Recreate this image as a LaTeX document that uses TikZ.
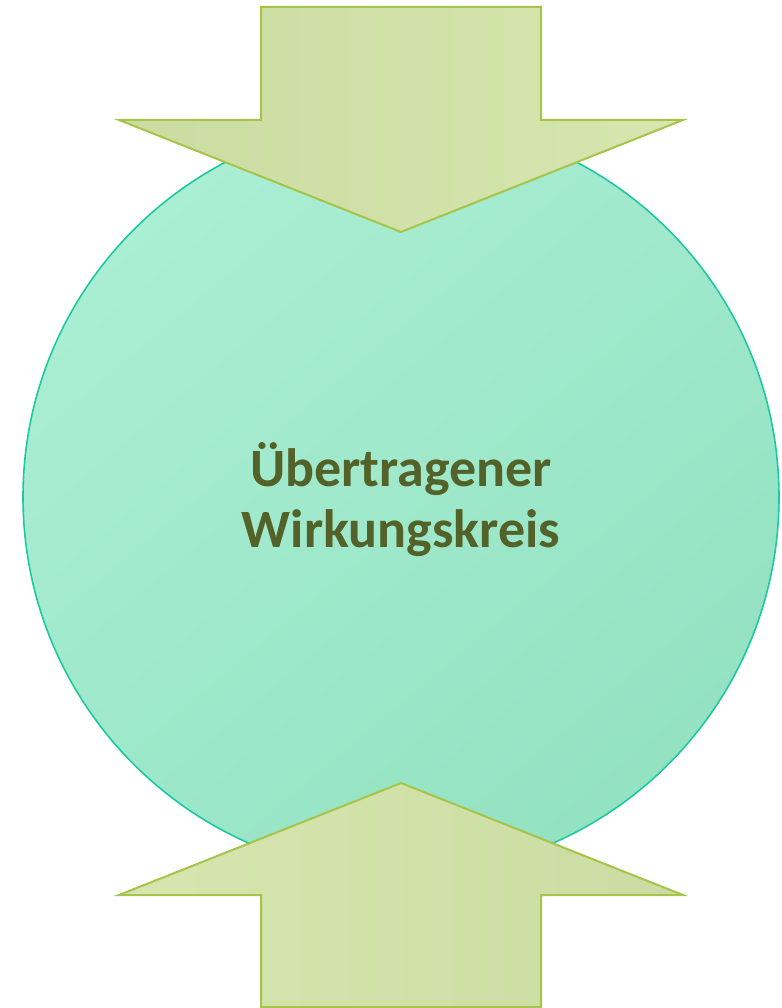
\documentclass[tikz,border=0pt]{standalone}
\usepackage{fontspec}
\setmainfont{Carlito}
\definecolor{circline}{HTML}{1DC99F}
\definecolor{circA}{HTML}{AAEED4}
\definecolor{circB}{HTML}{93E2C2}
\definecolor{arrline}{HTML}{A6C44A}
\definecolor{arrA}{HTML}{CBDCA3}
\definecolor{arrB}{HTML}{D6E6AE}
\definecolor{textgreen}{HTML}{526228}
\tikzset{
  bigcircle/.style={circle, draw=circline, line width=1.6pt, minimum size=756pt, inner sep=0pt,
    top color=circA, bottom color=circB, shading angle=40},
  fatarrow/.style={draw=arrline, line width=2pt, line join=miter},
  label/.style={font=\bfseries\fontsize{54}{61}\selectfont, text=textgreen, align=center}
}
\begin{document}
\begin{tikzpicture}[x=1pt,y=-1pt]
\useasboundingbox (0,0) rectangle (781,1008);
\node[bigcircle] (c) at (401,497) {};
\shade[fatarrow, left color=arrA, right color=arrB]
  (261,7) -- (541,7) -- (541,120) -- (683,120) -- (401,232) -- (119,120) -- (261,120) -- cycle;
\shade[fatarrow, left color=arrB, right color=arrA]
  (261,1007) -- (541,1007) -- (541,895) -- (683,895) -- (401,783) -- (119,895) -- (261,895) -- cycle;
\node[label] (t) at (401,500) {Übertragener\\Wirkungskreis};
\end{tikzpicture}
\end{document}
